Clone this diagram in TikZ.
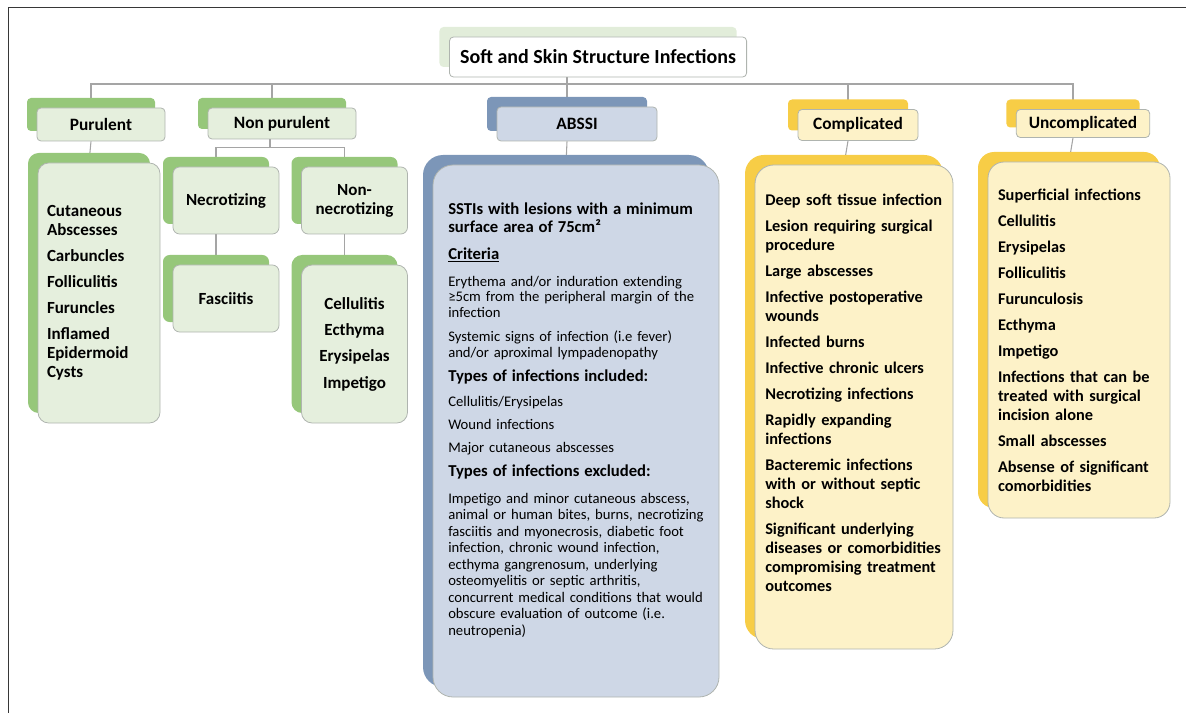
\documentclass[tikz,border=0pt]{standalone}
\usepackage{fontspec}
\setmainfont{Carlito}
\usetikzlibrary{shadows,backgrounds,positioning}

\definecolor{leafgreen}{RGB}{150,199,122}
\definecolor{palegreen}{RGB}{229,239,221}
\definecolor{titlegreen}{RGB}{226,237,218}
\definecolor{steelblue}{RGB}{124,150,184}
\definecolor{paleblue}{RGB}{206,215,230}
\definecolor{gold}{RGB}{247,205,70}
\definecolor{paleyellow}{RGB}{253,242,200}
\definecolor{edgegrey}{RGB}{175,180,175}
\definecolor{linkgrey}{RGB}{165,165,165}
\definecolor{framegrey}{RGB}{55,55,55}

\tikzset{
  backtab/.style={copy shadow={shadow xshift=-7.5pt, shadow yshift=7.5pt, fill=#1, draw=none}},
  headbox/.style={draw=edgegrey, line width=0.6pt, rounded corners=3pt,
    font=\fontsize{13}{15}\selectfont\bfseries},
  listbox/.style={draw=edgegrey, line width=0.6pt, rounded corners=8pt,
    font=\fontsize{12.75}{14.25}\selectfont\bfseries},
  greenbox/.style={fill=palegreen, backtab=leafgreen},
  bluebox/.style={fill=paleblue, backtab=steelblue},
  goldbox/.style={fill=paleyellow, backtab=gold},
  link/.style={draw=linkgrey, line width=0.8pt}
}

\begin{document}
\begin{tikzpicture}[x=0.75pt,y=-0.75pt]
  \useasboundingbox (0,0) rectangle (1186,713);
  \draw[framegrey, line width=1.3pt] (8.5,713) -- (8.5,7.5) -- (1186,7.5);

  % top of the tree
  \node[headbox, fill=white, backtab=titlegreen, anchor=east, minimum height=30pt,
    inner xsep=8pt, font=\fontsize{15}{17}\selectfont\bfseries] (title) at (747,57)
    {Soft and Skin Structure Infections};

  \node[headbox, greenbox, minimum width=96pt, minimum height=24.75pt] (pur) at (101,124.5) {Purulent};
  \node[headbox, greenbox, minimum width=111pt, minimum height=23.25pt] (nonpur) at (282,123.5) {Non purulent};
  \node[headbox, bluebox, minimum width=120pt, minimum height=25.5pt] (absi) at (577,124) {ABSSI};
  \node[headbox, goldbox, minimum width=90pt, minimum height=23.25pt] (comp) at (858,125) {Complicated};
  \node[headbox, goldbox, minimum width=100pt, minimum height=21pt] (uncomp) at (1083,123.5) {Uncomplicated};

  % purulent / non purulent
  \node[listbox, greenbox, minimum width=91.5pt, minimum height=195pt, text width=78pt,
    inner xsep=6.75pt, align=left] (purlist) at (99,293)
    {Cutaneous\\Abscesses\\[5.25pt]Carbuncles\\[5.25pt]Folliculitis\\[5.25pt]Furuncles\\[5.25pt]Inflamed\\Epidermoid\\Cysts};
  \node[listbox, greenbox, rounded corners=5pt, minimum width=79.5pt, minimum height=50.25pt] (necro) at (226,200.5) {Necrotizing};
  \node[listbox, greenbox, rounded corners=5pt, minimum width=79.5pt, minimum height=50.25pt, align=center] (nonnecro) at (354.5,200.5) {Non-\\necrotizing};
  \node[listbox, greenbox, rounded corners=5pt, minimum width=79.5pt, minimum height=50.25pt] (fasc) at (226,298.5) {Fasciitis};
  \node[listbox, greenbox, minimum width=79.5pt, minimum height=118.5pt, align=center] (nnlist) at (354.5,344)
    {Cellulitis\\[5.5pt]Ecthyma\\[5.5pt]Erysipelas\\[5.5pt]Impetigo};

  % ABSSI
  \node[listbox, bluebox, rounded corners=15pt, minimum width=214.5pt, minimum height=399pt] (abslist) at (576,431) {};
  \node[anchor=north west, inner sep=0pt, text width=215pt, align=left,
    font=\fontsize{11}{11.8}\selectfont] (abstext) at (448,202.5) {%
    {\bfseries\fontsize{12.5}{13.5}\selectfont SSTIs with lesions with a minimum\\surface area of 75cm²\par}
    \vspace{6.75pt}
    {\bfseries\fontsize{12.5}{13.5}\selectfont\underline{Criteria}\par}
    \vspace{8.25pt}
    Erythema and/or induration extending\\≥5cm from the peripheral margin of the\\infection\par
    \vspace{6.2pt}
    Systemic signs of infection (i.e fever)\\and/or aproximal lympadenopathy\par
    \vspace{4pt}
    {\bfseries\fontsize{12.5}{14}\selectfont Types of infections included:\par}
    \vspace{7pt}
    Cellulitis/Erysipelas\par
    \vspace{5.5pt}
    Wound infections\par
    \vspace{5.5pt}
    Major cutaneous abscesses\par
    \vspace{4pt}
    {\bfseries\fontsize{12.5}{14}\selectfont Types of infections excluded:\par}
    \vspace{7.5pt}
    {\fontsize{11}{12.4}\selectfont Impetigo and minor cutaneous abscess,\\animal or human bites, burns, necrotizing\\fasciitis and myonecrosis, diabetic foot\\infection, chronic wound infection,\\ecthyma gangrenosum, underlying\\osteomyelitis or septic arthritis,\\concurrent medical conditions that would\\obscure evaluation of outcome (i.e.\\neutropenia)\par}};

  % complicated / uncomplicated
  \node[listbox, goldbox, rounded corners=14pt, minimum width=148.5pt, minimum height=363pt] (complist) at (854,407) {};
  \node[anchor=north west, inner sep=0pt, text width=140pt, align=left,
    font=\fontsize{12.25}{14.25}\selectfont\bfseries] (comptext) at (765,194)
    {Deep soft tissue infection\\[5.25pt]Lesion requiring surgical\\procedure\\[5.25pt]Large abscesses\\[5.25pt]Infective postoperative\\wounds\\[5.25pt]Infected burns\\[5.25pt]Infective chronic ulcers\\[5.25pt]Necrotizing infections\\[5.25pt]Rapidly expanding\\infections\\[5.25pt]Bacteremic infections\\with or without septic\\shock\\[5.25pt]Significant underlying\\diseases or comorbidities\\compromising treatment\\outcomes};
  \node[listbox, goldbox, rounded corners=12pt, minimum width=136.5pt, minimum height=267pt, text width=121.5pt,
    inner xsep=7.5pt, align=left, font=\fontsize{12.25}{14.25}\selectfont\bfseries] (uncomplist) at (1079,340)
    {Superficial infections\\[5.25pt]Cellulitis\\[5.25pt]Erysipelas\\[5.25pt]Folliculitis\\[5.25pt]Furunculosis\\[5.25pt]Ecthyma\\[5.25pt]Impetigo\\[5.25pt]Infections that can be\\treated with surgical\\incision alone\\[5.25pt]Small abscesses\\[5.25pt]Absense of significant\\comorbidities};

  % connectors
  \coordinate (bus) at (0,84);
  \coordinate (purtop) at ([xshift=-7.5pt]pur.north);
  \coordinate (nptop) at ([xshift=-7.5pt]nonpur.north);
  \coordinate (abstop) at ([xshift=-7.5pt]absi.north);
  \coordinate (comptop) at ([xshift=-7.5pt]comp.north);
  \coordinate (unctop) at ([xshift=-7.5pt]uncomp.north);
  \coordinate (npfoot) at ([xshift=-9pt]nonpur.south);
  \coordinate (npsplit) at ([yshift=-6pt]npfoot);
  \coordinate (necrotop) at ([xshift=-7.5pt]necro.north);
  \coordinate (nntop) at ([xshift=-7.5pt]nonnecro.north);
  \begin{scope}[on background layer]
    \draw[link] (purtop) -- (purtop |- bus) -- (unctop |- bus) -- (unctop);
    \draw[link] (nptop |- bus) -- (nptop);
    \draw[link] (comptop |- bus) -- (comptop);
    \draw[link] (title.south -| abstop) -- (abstop);
    \draw[link] ([xshift=-7.5pt]pur.south) -- ([xshift=-7.5pt]purlist.north);
    \draw[link] (npfoot) -- (npsplit);
    \draw[link] (necrotop |- npsplit) -- (nntop |- npsplit);
    \draw[link] (necrotop |- npsplit) -- (necrotop);
    \draw[link] (nntop |- npsplit) -- (nntop);
    \draw[link] ([xshift=-7.5pt]necro.south) -- ([xshift=-7.5pt]fasc.north);
    \draw[link] ([xshift=-7.5pt]nonnecro.south) -- ([xshift=-7.5pt]nnlist.north);
    \draw[link] ([xshift=-7.5pt]absi.south) -- ([xshift=-7.5pt]abslist.north);
    \draw[link] ([xshift=-7.5pt]comp.south) -- ([xshift=-7.5pt]complist.north);
    \draw[link] ([xshift=-7.5pt]uncomp.south) -- ([xshift=-7.5pt]uncomplist.north);
  \end{scope}
\end{tikzpicture}
\end{document}
